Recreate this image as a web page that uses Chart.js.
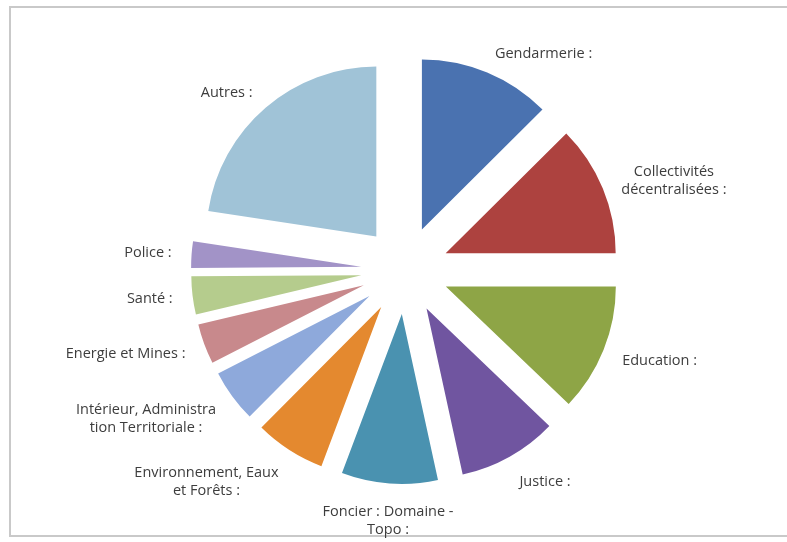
<!DOCTYPE html>
<html>
<head>
<meta charset="utf-8">
<script src="https://cdn.jsdelivr.net/npm/chart.js@4"></script>
<style>
  html, body { margin: 0; padding: 0; background: #fff; overflow: hidden; }
  #wrap { position: relative; width: 787px; height: 542px; }
  #frame {
    position: absolute; left: 9px; top: 6px; width: 800px; height: 531px;
    border: 2px solid #c9c9c9; box-sizing: border-box;
  }
  #chart { position: absolute; left: 0; top: 0; }
</style>
</head>
<body>
<div id="wrap">
  <div id="frame"></div>
  <canvas id="chart" width="787" height="542"></canvas>
</div>
<script>
// Slice labels (each one may be split on several lines)
const labels = [
  ['Gendarmerie :'],
  ['Collectivités', 'décentralisées :'],
  ['Education :'],
  ['Justice :'],
  ['Foncier : Domaine -', 'Topo :'],
  ['Environnement, Eaux', 'et Forêts :'],
  ['Intérieur, Administra', 'tion Territoriale :'],
  ['Energie et Mines :'],
  ['Santé :'],
  ['Police :'],
  ['Autres :'],
];

const values = [12.5, 12.4, 12.1, 9.4, 9.1, 6.7, 5.0, 3.8, 3.6, 2.5, 22.5];

const colors = [
  '#4a72b0', '#ad423f', '#8ea546', '#7055a0', '#4a92b0', '#e4892f',
  '#8ea9db', '#c8898c', '#b5cc8d', '#a293c7', '#a0c3d7',
];

// Distance every slice is pulled out of the centre (like an Excel exploded pie)
const EXPLODE = 44;

// Chart.js "offset" also grows the radius of small slices, so move the
// arcs ourselves and keep the same radius for all of them
const ArcEl = Chart.ArcElement || Chart.elements.ArcElement;
const baseDraw = ArcEl.prototype.draw;
ArcEl.prototype.draw = function (ctx) {
  const mid = (this.startAngle + this.endAngle) / 2;
  ctx.save();
  ctx.translate(Math.cos(mid) * EXPLODE, Math.sin(mid) * EXPLODE);
  baseDraw.call(this, ctx);
  ctx.restore();
};

// Draw the labels just outside each slice
const outsideLabels = {
  id: 'outsideLabels',
  afterDatasetsDraw(chart) {
    const ctx = chart.ctx;
    const arcs = chart.getDatasetMeta(0).data;
    const lineH = 18;
    const pad = 20;

    ctx.save();
    ctx.font = '14.5px "Open Sans", sans-serif';
    ctx.fillStyle = '#3d3d3d';
    ctx.textBaseline = 'middle';
    ctx.textAlign = 'center';

    arcs.forEach((arc, i) => {
      const { x, y, startAngle, endAngle, outerRadius } = arc.getProps(
        ['x', 'y', 'startAngle', 'endAngle', 'outerRadius'], true);
      const mid = (startAngle + endAngle) / 2;
      const dx = Math.cos(mid);
      const dy = Math.sin(mid);
      const dist = outerRadius + EXPLODE + pad;
      const ax = x + dx * dist;
      const ay = y + dy * dist;

      const lines = labels[i];
      const w = Math.max(...lines.map((l) => ctx.measureText(l).width));
      const h = lines.length * lineH;

      // Box placement around the anchor point
      let left;
      if (Math.abs(dx) < 0.2) left = ax - w / 2;
      else if (dx > 0) left = ax;
      else left = ax - w;
      const top = ay - h / 2 + Math.max(dy, 0) * h / 2;

      lines.forEach((line, j) => {
        ctx.fillText(line, left + w / 2, top + lineH / 2 + j * lineH);
      });
    });
    ctx.restore();
  },
};

const chart = new Chart(document.getElementById('chart'), {
  type: 'pie',
  data: {
    labels: labels.map((l) => l.join(' ')),
    datasets: [
      {
        data: values,
        backgroundColor: colors,
        borderWidth: 0,
        radius: 170,
        clip: false,
      },
    ],
  },
  options: {
    responsive: false,
    animation: false,
    layout: {
      padding: { left: 23, right: 0, top: 0, bottom: 2 },
    },
    plugins: {
      legend: { display: false },
      tooltip: { enabled: false },
    },
  },
  plugins: [outsideLabels],
});
</script>
</body>
</html>
